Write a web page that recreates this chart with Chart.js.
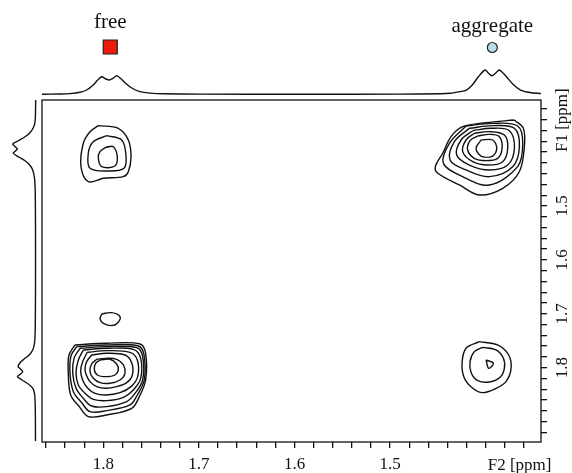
<!DOCTYPE html>
<html><head><meta charset="utf-8">
<script src="https://cdn.jsdelivr.net/npm/chart.js@4.4.0/dist/chart.umd.min.js"></script>
<style>html,body{margin:0;padding:0;background:#fff}#wrap{width:572px;height:473px;position:relative}</style>
</head><body><div id="wrap"><canvas id="c" width="572" height="473"></canvas></div>
<script>
// ---- axis ranges (ppm) and labels ----
const F2_RANGE = [1.3422, 1.8641];
const F1_RANGE = [1.3034, 1.9378];
const X_TICK_LABELS = ['1.8', '1.7', '1.6', '1.5'];
const Y_TICK_LABELS = ['1.5', '1.6', '1.7', '1.8'];
const F2_TITLE = 'F2 [ppm]';
const F1_TITLE = 'F1 [ppm]';
const TITLE_AT = 1.4;

// ---- species markers ----
const SPECIES = ['free', 'aggregate'];
const SPECIES_F2 = [1.7927, 1.3931];
const SPECIES_LEVEL = [47.3, 46.8];
const SPECIES_STYLE = ['rect', 'circle'];
const SPECIES_COLOR = ['#ee1a0a', '#b9dfe2'];

// ---- F2 (top) projection: ppm / intensity ----
const topProjF2 = [1.8641, 1.8453, 1.8348, 1.8244, 1.8174, 1.8105, 1.8061, 1.8017, 1.7977, 1.7937, 1.7899, 1.7860, 1.7815, 1.7773, 1.7703, 1.7616, 1.7512, 1.7355, 1.6989, 1.5942, 1.4897, 1.4478, 1.4374, 1.4269, 1.4206, 1.4143, 1.4081, 1.4007, 1.3971, 1.3937, 1.3898, 1.3858, 1.3788, 1.3715, 1.3641, 1.3537, 1.3422];
const topProjInt = [0, 0.3, 0.7, 2, 4.3, 9.3, 14, 17.6, 15.5, 14.3, 16, 18.6, 15.5, 11.6, 6.3, 2.7, 1.2, 0.5, 0.2, 0.1, 0.2, 0.5, 1, 2.7, 4, 9, 17, 24.3, 21, 18.6, 21, 24.3, 18, 10, 4.5, 1.8, 0.8];

// ---- F1 (left) projection: ppm / intensity ----
const leftProjF1 = [1.3034, 1.3405, 1.3535, 1.3646, 1.3720, 1.3785, 1.3850, 1.3900, 1.3943, 1.3983, 1.4022, 1.4091, 1.4156, 1.4239, 1.4332, 1.4481, 1.4703, 1.5445, 1.6558, 1.7300, 1.7541, 1.7671, 1.7764, 1.7838, 1.7907, 1.7981, 1.8027, 1.8074, 1.8120, 1.8167, 1.8218, 1.8265, 1.8330, 1.8395, 1.8506, 1.8784, 1.9359];
const leftProjInt = [0, 0.5, 2, 6, 11, 17, 23, 20.5, 18.4, 20.5, 22.4, 17, 11, 6, 3, 1.2, 0.5, 0.2, 0.2, 0.5, 1.2, 3, 6.5, 11.5, 15.7, 17.5, 15, 13, 15.5, 18.3, 14.5, 10.5, 5.5, 2.5, 1, 0.4, 0.2];

// ---- contour levels: [F2, F1] vertices ----
// cross peak free (F2) / aggregate (F1)
const peakFreeAgg = [
  [[1.8052,1.3510],[1.7843,1.3559],[1.7738,1.3776],[1.7710,1.4085],[1.7738,1.4364],[1.7791,1.4456],[1.8000,1.4486],[1.8157,1.4549],[1.8233,1.4271],[1.8209,1.3837],[1.8139,1.3622]],
  [[1.7964,1.3696],[1.7808,1.3776],[1.7763,1.4054],[1.7783,1.4301],[1.7948,1.4351],[1.8139,1.4301],[1.8157,1.4022],[1.8105,1.3807]],
  [[1.7972,1.3911],[1.7895,1.3900],[1.7854,1.4085],[1.7878,1.4258],[1.8017,1.4271],[1.8052,1.4115],[1.8035,1.3993]]
];
// diagonal peak aggregate
const peakAggAgg = [
  [[1.3701,1.3405],[1.3607,1.3559],[1.3596,1.3900],[1.3649,1.4364],[1.3822,1.4672],[1.4067,1.4796],[1.4276,1.4610],[1.4502,1.4393],[1.4527,1.4271],[1.4450,1.4022],[1.4363,1.3714],[1.4241,1.3529],[1.3997,1.3455]],
  [[1.4206,1.3516],[1.3927,1.3467],[1.3666,1.3516],[1.3613,1.3838],[1.3666,1.4271],[1.3962,1.4611],[1.4241,1.4456],[1.4443,1.4209],[1.4380,1.3838]],
  [[1.4171,1.3559],[1.3927,1.3510],[1.3700,1.3559],[1.3648,1.3900],[1.3718,1.4271],[1.3962,1.4456],[1.4206,1.4332],[1.4373,1.4147],[1.4328,1.3807]],
  [[1.4136,1.3603],[1.3944,1.3559],[1.3753,1.3603],[1.3700,1.3930],[1.3770,1.4240],[1.3962,1.4332],[1.4171,1.4240],[1.4304,1.4054],[1.4258,1.3776]],
  [[1.4119,1.3652],[1.3962,1.3621],[1.3805,1.3683],[1.3770,1.3930],[1.3822,1.4178],[1.3979,1.4240],[1.4136,1.4178],[1.4241,1.3992],[1.4206,1.3776]],
  [[1.4084,1.3702],[1.3962,1.3671],[1.3857,1.3714],[1.3829,1.3930],[1.3875,1.4116],[1.3997,1.4159],[1.4119,1.4116],[1.4189,1.3961],[1.4164,1.3788]],
  [[1.4049,1.3776],[1.3927,1.3776],[1.3885,1.3930],[1.3927,1.4073],[1.4049,1.4073],[1.4101,1.3930]]
];
// diagonal peak free
const peakFreeFree = [
  [[1.8296,1.7578],[1.7965,1.7547],[1.7616,1.7560],[1.7557,1.7733],[1.7557,1.8228],[1.7623,1.8537],[1.7703,1.8753],[1.7965,1.8877],[1.8156,1.8908],[1.8251,1.8722],[1.8341,1.8506],[1.8366,1.8104],[1.8359,1.7764]],
  [[1.8278,1.7609],[1.7965,1.7578],[1.7633,1.7597],[1.7574,1.7764],[1.7571,1.8228],[1.7644,1.8506],[1.7721,1.8691],[1.7965,1.8796],[1.8139,1.8815],[1.8226,1.8648],[1.8313,1.8444],[1.8348,1.8104],[1.8338,1.7782]],
  [[1.8244,1.7640],[1.7965,1.7609],[1.7651,1.7628],[1.7588,1.7795],[1.7588,1.8228],[1.7668,1.8475],[1.7755,1.8629],[1.7965,1.8722],[1.8122,1.8710],[1.8209,1.8568],[1.8285,1.8382],[1.8320,1.8104],[1.8306,1.7826]],
  [[1.8209,1.7671],[1.7965,1.7640],[1.7686,1.7659],[1.7609,1.7826],[1.7609,1.8197],[1.7686,1.8413],[1.7790,1.8549],[1.7965,1.8611],[1.8104,1.8586],[1.8191,1.8475],[1.8261,1.8320],[1.8285,1.8092],[1.8261,1.7857]],
  [[1.8167,1.7714],[1.7965,1.7683],[1.7721,1.7714],[1.7644,1.7857],[1.7640,1.8166],[1.7710,1.8351],[1.7825,1.8463],[1.7972,1.8506],[1.8087,1.8475],[1.8167,1.8370],[1.8216,1.8228],[1.8237,1.8061],[1.8216,1.7888]],
  [[1.8122,1.7764],[1.7965,1.7733],[1.7773,1.7764],[1.7703,1.7906],[1.7696,1.8135],[1.7755,1.8277],[1.7860,1.8351],[1.7972,1.8382],[1.8069,1.8351],[1.8139,1.8258],[1.8181,1.8122],[1.8191,1.8011],[1.8174,1.7888]],
  [[1.8069,1.7844],[1.7972,1.7826],[1.7860,1.7844],[1.7790,1.7949],[1.7773,1.8104],[1.7825,1.8228],[1.7930,1.8289],[1.8034,1.8277],[1.8104,1.8197],[1.8139,1.8073],[1.8122,1.7931]],
  [[1.8034,1.7857],[1.7930,1.7844],[1.7860,1.7931],[1.7843,1.8042],[1.7877,1.8135],[1.7972,1.8166],[1.8062,1.8135],[1.8094,1.8030],[1.8080,1.7918]]
];
// weak peak near (1.79, 1.71)
const peakWeak = [
  [[1.8017,1.7003],[1.7912,1.6979],[1.7825,1.7053],[1.7853,1.7176],[1.7912,1.7220],[1.7999,1.7176],[1.8034,1.7096]]
];
// cross peak aggregate (F2) / free (F1)
const peakAggFree = [
  [[1.4067,1.7517],[1.3875,1.7578],[1.3760,1.7764],[1.3735,1.8011],[1.3788,1.8258],[1.3892,1.8382],[1.4032,1.8463],[1.4136,1.8382],[1.4223,1.8197],[1.4248,1.7918],[1.4206,1.7640]],
  [[1.4032,1.7622],[1.3892,1.7671],[1.3815,1.7826],[1.3805,1.8011],[1.3850,1.8178],[1.3962,1.8265],[1.4084,1.8240],[1.4150,1.8104],[1.4164,1.7888],[1.4119,1.7702]],
  [[1.3997,1.7857],[1.3920,1.7918],[1.3969,1.8011]]
];

// ---------------------------------------------------------------
const FONT = '"Liberation Serif", "Times New Roman", serif';
const PLOT_W = 499, PLOT_H = 342;

const contourSets = [peakFreeAgg, peakAggAgg, peakFreeFree, peakWeak, peakAggFree];
const datasets = [];
contourSets.forEach(set => set.forEach(lv => {
  const pts = lv.concat([lv[0]]).map(p => ({x: p[0], y: p[1]}));
  datasets.push({data: pts, showLine: true, pointRadius: 0, borderColor: '#111', borderWidth: 1.4, tension: 0.35, xAxisID: 'x', yAxisID: 'y'});
}));
datasets.push({
  data: topProjF2.map((v, i) => ({x: v, y: topProjInt[i]})),
  showLine: true, pointRadius: 0, borderColor: '#111', borderWidth: 1.4, tension: 0.3, clip: false,
  xAxisID: 'x', yAxisID: 'yTop'
});
datasets.push({
  data: leftProjF1.map((v, i) => ({x: leftProjInt[i], y: v})),
  showLine: true, pointRadius: 0, borderColor: '#111', borderWidth: 1.4, tension: 0.3, clip: false,
  xAxisID: 'xLeft', yAxisID: 'y'
});

function drawMarker(ctx, style, r, x, y) {
  if (Chart.helpers && Chart.helpers.drawPoint) {
    Chart.helpers.drawPoint(ctx, {pointStyle: style, radius: r, rotation: 0, borderWidth: ctx.lineWidth}, x, y);
    return;
  }
  ctx.beginPath();
  if (style === 'rect') { const s = r * Math.SQRT1_2; ctx.rect(x - s, y - s, 2 * s, 2 * s); }
  else ctx.arc(x, y, r, 0, Math.PI * 2);
  ctx.fill(); ctx.stroke();
}

const decor = {
  id: 'decor',
  afterDatasetsDraw(chart) {
    const {ctx, chartArea: a, scales} = chart;
    ctx.save();
    ctx.strokeStyle = '#111';
    ctx.lineWidth = 1.3;
    ctx.strokeRect(a.left, a.top, a.right - a.left, a.bottom - a.top);
    ctx.fillStyle = '#111';
    ctx.font = '17px ' + FONT;
    // right-axis labels, rotated
    const ys = scales.y;
    Y_TICK_LABELS.forEach(t => {
      const py = ys.getPixelForValue(parseFloat(t));
      ctx.save();
      ctx.translate(a.right + 26, py);
      ctx.rotate(-Math.PI / 2);
      ctx.textAlign = 'center';
      ctx.textBaseline = 'alphabetic';
      ctx.fillText(t, 0, 0);
      ctx.restore();
    });
    ctx.save();
    ctx.translate(a.right + 26, ys.getPixelForValue(TITLE_AT));
    ctx.rotate(-Math.PI / 2);
    ctx.textAlign = 'left';
    ctx.textBaseline = 'alphabetic';
    ctx.fillText(F1_TITLE, 0, 0);
    ctx.restore();
    // bottom axis title
    ctx.textAlign = 'left';
    ctx.textBaseline = 'alphabetic';
    ctx.fillText(F2_TITLE, scales.x.getPixelForValue(TITLE_AT) + 2, a.bottom + 28);
    // species markers and names
    const yt = scales.yTop;
    ctx.font = '21px ' + FONT;
    ctx.textAlign = 'center';
    const baselines = [28, 32];
    const radii = [9.9, 5];
    SPECIES.forEach((s, i) => {
      const px = scales.x.getPixelForValue(SPECIES_F2[i]);
      ctx.fillStyle = '#111';
      ctx.fillText(s, px, baselines[i]);
      ctx.fillStyle = SPECIES_COLOR[i];
      ctx.strokeStyle = '#222';
      ctx.lineWidth = 1.2;
      drawMarker(ctx, SPECIES_STYLE[i], radii[i], px, yt.getPixelForValue(SPECIES_LEVEL[i]));
    });
    ctx.restore();
  }
};

new Chart(document.getElementById('c'), {
  type: 'scatter',
  data: {datasets},
  plugins: [decor],
  options: {
    responsive: false,
    animation: false,
    events: [],
    layout: {padding: {left: 42, top: 100, right: 0, bottom: 0}},
    plugins: {legend: {display: false}, tooltip: {enabled: false}},
    scales: {
      x: {
        type: 'linear', position: 'bottom', reverse: true,
        min: F2_RANGE[0], max: F2_RANGE[1],
        border: {display: false},
        grid: {drawOnChartArea: false, drawTicks: true, tickLength: 6, color: '#111', lineWidth: 1.3},
        ticks: {
          stepSize: 0.02, autoSkip: false, maxRotation: 0, minRotation: 0, includeBounds: false,
          padding: 6, color: '#111', font: {family: FONT, size: 17},
          callback: (v) => {
            const r = (Math.round(v * 10) / 10).toFixed(1);
            return (Math.abs(v - parseFloat(r)) < 1e-6 && X_TICK_LABELS.includes(r)) ? r : '';
          }
        },
        afterFit: (s) => { s.height = 31; }
      },
      y: {
        type: 'linear', position: 'right', reverse: true,
        min: F1_RANGE[0], max: F1_RANGE[1],
        border: {display: false},
        grid: {drawOnChartArea: false, drawTicks: true, tickLength: 6, color: '#111', lineWidth: 1.3},
        ticks: {stepSize: 0.02, display: false, includeBounds: false, autoSkip: false},
        afterFit: (s) => { s.width = 31; }
      },
      xLeft: {type: 'linear', axis: 'x', display: false, reverse: true, min: -6.3 - PLOT_W, max: -6.3},
      yTop: {type: 'linear', axis: 'y', display: false, min: -(PLOT_H + 5.7), max: -5.7}
    }
  }
});
</script></body></html>
